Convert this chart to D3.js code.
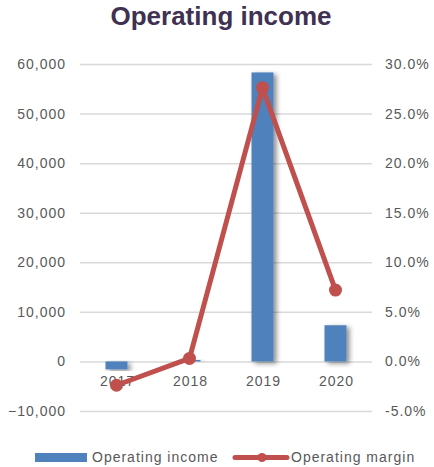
<!DOCTYPE html>
<html lang="en">
<head>
<meta charset="utf-8">
<script src="https://cdn.jsdelivr.net/npm/d3@7"></script>
<style>
  body { margin: 0; background: #fff; }
  text { font-family: "Liberation Sans", Arial, sans-serif; }
  .lbl { font-size: 14px; fill: #595959; letter-spacing: 1px; }
</style>
</head>
<body>
<div id="chart"></div>
<script>
    var years = ["2017", "2018", "2019", "2020"];
    var income = [-1600, 300, 58300, 7300];
    var margin = [-2.4, 0.3, 27.6, 7.2];
    var incomeTicks = [-10000, 0, 10000, 20000, 30000, 40000, 50000, 60000];
    var marginTicks = [-5, 0, 5, 10, 15, 20, 25, 30];

    var svgWidth = 434, svgHeight = 467;
    var svg = d3.select("#chart").append("svg")
            .attr("width", svgWidth)
            .attr("height", svgHeight);

    /* plot area */
    var plotLeft = 80, plotRight = 372, plotTop = 64, plotBottom = 411;

    var x = d3.scaleBand().domain(years).range([plotLeft, plotRight]);
    var y = d3.scaleLinear().domain([-10000, 60000]).range([plotBottom, plotTop]);
    var y2 = d3.scaleLinear().domain([-5, 30]).range([plotBottom, plotTop]);

    /* bar shadow */
    var defs = svg.append("defs");
    var f = defs.append("filter").attr("id", "shadow")
            .attr("x", "-50%").attr("y", "-10%").attr("width", "200%").attr("height", "130%");
    f.append("feDropShadow")
            .attr("dx", 3).attr("dy", 2).attr("stdDeviation", 2.5)
            .attr("flood-color", "#000").attr("flood-opacity", 0.45);

    /* title */
    svg.append("text")
            .attr("x", 221).attr("y", 25)
            .attr("text-anchor", "middle")
            .style("font-size", "26px")
            .style("font-weight", "bold")
            .style("fill", "#3f3151")
            .text("Operating income");

    /* grid */
    svg.append("g")
            .attr("transform", "translate(" + plotLeft + ",0)")
            .call(d3.axisLeft(y).tickValues(incomeTicks).tickSize(-(plotRight - plotLeft)).tickFormat(""))
            .call(function(g) { g.select(".domain").remove(); })
            .selectAll("line").attr("stroke", "#d9d9d9").attr("stroke-width", 1.5);

    /* left axis */
    svg.append("g")
            .attr("transform", "translate(" + (plotLeft - 14) + ",0)")
            .call(d3.axisLeft(y).tickValues(incomeTicks).tickSize(0).tickPadding(0).tickFormat(d3.format(",")))
            .call(function(g) { g.select(".domain").remove(); })
            .selectAll("text")
            .attr("class", "lbl")
            .attr("fill", null).attr("font-size", null).attr("font-family", null);

    /* right axis */
    svg.append("g")
            .attr("transform", "translate(" + (plotRight + 13) + ",0)")
            .call(d3.axisRight(y2).tickValues(marginTicks).tickSize(0).tickPadding(0)
                    .tickFormat(function(d) { return d.toFixed(1) + "%"; }))
            .call(function(g) { g.select(".domain").remove(); })
            .selectAll("text")
            .attr("class", "lbl")
            .attr("fill", null).attr("font-size", null).attr("font-family", null);

    /* bars */
    var barW = 22;
    svg.append("g").selectAll("rect")
            .data(years)
            .enter()
            .append("rect")
            .attr("x", function(d) { return x(d) + x.bandwidth() / 2 - barW / 2; })
            .attr("y", function(d, i) { return y(Math.max(0, income[i])); })
            .attr("width", barW)
            .attr("height", function(d, i) { return Math.abs(y(income[i]) - y(0)); })
            .attr("fill", "#4f81bd")
            .attr("filter", "url(#shadow)");

    /* category labels */
    svg.append("g").selectAll("text")
            .data(years)
            .enter()
            .append("text")
            .attr("class", "lbl")
            .attr("x", function(d) { return x(d) + x.bandwidth() / 2 + 1; })
            .attr("y", y(0) + 25)
            .attr("text-anchor", "middle")
            .text(function(d) { return d; });

    /* margin line */
    var line = d3.line()
            .x(function(d, i) { return x(years[i]) + x.bandwidth() / 2; })
            .y(function(d) { return y2(d); });

    svg.append("path")
            .datum(margin)
            .attr("d", line)
            .attr("fill", "none")
            .attr("stroke", "#c0504d")
            .attr("stroke-width", 5)
            .attr("stroke-linejoin", "round");

    svg.append("g").selectAll("circle")
            .data(margin)
            .enter()
            .append("circle")
            .attr("cx", function(d, i) { return x(years[i]) + x.bandwidth() / 2; })
            .attr("cy", function(d) { return y2(d); })
            .attr("r", 6.5)
            .attr("fill", "#c0504d");

    /* legend */
    var lg = svg.append("g");
    lg.append("rect")
            .attr("x", 35).attr("y", 453).attr("width", 52).attr("height", 9)
            .attr("fill", "#4f81bd");
    lg.append("text")
            .attr("class", "lbl")
            .attr("x", 92).attr("y", 462)
            .text("Operating income");
    lg.append("line")
            .attr("x1", 235).attr("x2", 287).attr("y1", 457.5).attr("y2", 457.5)
            .attr("stroke", "#c0504d").attr("stroke-width", 5).attr("stroke-linecap", "round");
    lg.append("circle")
            .attr("cx", 262).attr("cy", 457.5).attr("r", 4.5)
            .attr("fill", "#c0504d");
    lg.append("text")
            .attr("class", "lbl")
            .attr("x", 291).attr("y", 462)
            .text("Operating margin");
</script>
</body>
</html>
